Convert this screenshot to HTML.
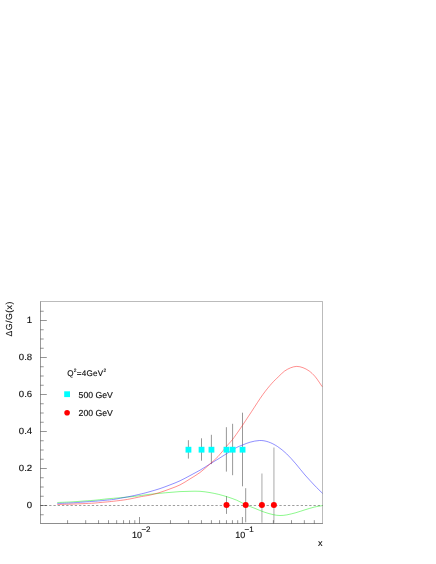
<!DOCTYPE html><html><head><meta charset="utf-8"><style>html,body{margin:0;padding:0;background:#fff}svg{display:block;will-change:transform}text{font-family:"Liberation Sans",sans-serif;fill:#111;stroke:#111;stroke-width:0.15px;text-rendering:geometricPrecision}</style></head><body>
<svg width="436" height="564" viewBox="0 0 436 564">
<rect width="436" height="564" fill="#fff"/>
<g stroke="#8c8c8c" stroke-width="0.9">
<line x1="188.4" y1="440.2" x2="188.4" y2="458.6"/>
<line x1="201.5" y1="438.3" x2="201.5" y2="460.7"/>
<line x1="211.4" y1="434.8" x2="211.4" y2="464.1"/>
<line x1="226.4" y1="427.2" x2="226.4" y2="471.6"/>
<line x1="232.6" y1="423.8" x2="232.6" y2="475.2"/>
<line x1="242.5" y1="412.7" x2="242.5" y2="486.3"/>
<line x1="226.5" y1="496.2" x2="226.5" y2="513.9"/>
<line x1="245.7" y1="488.2" x2="245.7" y2="522.3"/>
</g>
<g stroke="#c6c6c6" stroke-width="1.5">
<line x1="261.9" y1="473.6" x2="261.9" y2="522.8"/>
<line x1="273.9" y1="447.5" x2="273.9" y2="522.8"/>
</g>
<line x1="40.5" y1="505.5" x2="322.5" y2="505.5" stroke="#333" stroke-width="0.48" stroke-dasharray="2.3 1.963" stroke-dashoffset="-0.15"/>
<g fill="none" stroke-width="0.5" stroke-linejoin="round">
<path d="M57.3 502.5 C59.4 502.4 65.5 502.2 70.0 502.0 C74.5 501.8 79.5 501.3 84.0 501.0 C88.5 500.7 93.2 500.4 97.0 500.0 C100.8 499.6 103.0 499.3 106.9 498.9 C110.8 498.5 116.0 498.1 120.6 497.7 C125.2 497.3 129.8 496.9 134.4 496.4 C139.0 495.9 143.8 495.0 148.1 494.5 C152.4 494.0 156.3 493.7 160.0 493.3 C163.7 492.9 166.7 492.7 170.0 492.4 C173.3 492.1 176.7 491.8 180.0 491.6 C183.3 491.4 186.7 491.4 190.0 491.3 C193.3 491.2 196.7 491.1 200.0 491.3 C203.3 491.5 206.9 492.1 210.0 492.6 C213.1 493.1 215.4 493.6 218.3 494.3 C221.2 495.0 224.4 495.9 227.5 496.9 C230.6 497.9 233.6 498.9 236.7 500.2 C239.8 501.5 242.8 503.4 245.9 504.8 C249.0 506.2 251.9 507.2 255.0 508.4 C258.1 509.6 261.1 511.1 264.2 512.1 C267.3 513.2 270.8 514.1 273.4 514.7 C276.0 515.3 277.8 515.4 280.0 515.5 C282.2 515.5 284.1 515.4 286.7 514.9 C289.3 514.4 292.8 513.6 295.9 512.7 C298.9 511.9 301.9 510.7 305.0 509.8 C308.1 508.9 311.3 507.8 314.2 507.1 C317.1 506.4 321.1 505.9 322.5 505.6" stroke="#00f000" stroke-width="0.45"/>
<path d="M57.3 503.5 C59.4 503.4 65.5 503.2 70.0 503.0 C74.5 502.8 80.0 502.3 84.0 502.0 C88.0 501.7 91.3 501.5 94.0 501.3 C96.7 501.1 98.0 501.0 100.0 500.8 C102.0 500.6 103.7 500.4 106.0 500.2 C108.3 500.0 110.2 499.9 113.8 499.4 C117.4 498.8 122.9 497.8 127.5 496.9 C132.1 496.0 137.6 494.8 141.3 493.9 C145.1 493.0 146.9 492.5 150.0 491.6 C153.1 490.7 156.7 489.7 160.0 488.6 C163.3 487.5 166.7 486.2 170.0 484.9 C173.3 483.6 176.7 482.4 180.0 480.8 C183.3 479.2 186.7 477.4 190.0 475.6 C193.3 473.8 196.7 472.1 200.0 470.2 C203.3 468.3 206.8 466.0 209.8 464.1 C212.8 462.2 215.2 460.8 218.0 459.1 C220.8 457.4 223.3 455.7 226.4 453.8 C229.5 451.9 233.6 449.2 236.3 447.7 C239.0 446.2 240.3 445.9 242.6 445.0 C244.9 444.1 247.3 442.9 250.1 442.2 C252.9 441.4 256.6 440.6 259.6 440.5 C262.6 440.4 265.3 440.9 268.3 441.9 C271.3 442.9 274.4 444.5 277.5 446.5 C280.6 448.5 283.6 451.0 286.7 453.9 C289.8 456.8 292.8 460.4 295.9 463.9 C298.9 467.4 301.9 471.5 305.0 475.0 C308.1 478.5 311.3 481.9 314.2 485.0 C317.1 488.1 321.1 491.9 322.5 493.3" stroke="#2020ff"/>
<path d="M57.3 504.5 C59.4 504.4 65.9 504.3 70.0 504.2 C74.1 504.1 78.0 503.9 82.0 503.7 C86.0 503.5 91.0 503.3 94.0 503.1 C97.0 502.9 98.0 502.7 100.0 502.5 C102.0 502.3 103.7 502.2 106.0 502.0 C108.3 501.8 110.2 501.6 113.8 501.2 C117.4 500.8 122.9 500.2 127.5 499.4 C132.1 498.6 137.6 497.3 141.3 496.6 C145.1 495.9 146.9 495.8 150.0 495.1 C153.1 494.4 156.7 493.4 160.0 492.4 C163.3 491.4 166.7 490.1 170.0 488.9 C173.3 487.6 176.7 486.6 180.0 484.9 C183.3 483.2 186.7 481.0 190.0 478.9 C193.3 476.8 196.7 475.0 200.0 472.5 C203.3 470.0 206.8 466.8 209.8 464.1 C212.8 461.5 215.2 459.5 218.0 456.6 C220.8 453.7 224.0 449.4 226.4 446.5 C228.8 443.6 230.2 442.4 232.5 439.5 C234.8 436.6 236.8 433.6 240.0 429.0 C243.2 424.4 247.7 417.4 251.5 411.7 C255.3 405.9 259.5 399.2 262.9 394.5 C266.3 389.8 269.4 386.1 272.0 383.2 C274.6 380.3 276.1 379.0 278.2 377.0 C280.3 375.0 282.3 372.7 284.4 371.2 C286.5 369.7 288.5 368.6 290.6 367.8 C292.7 367.0 294.7 366.4 296.8 366.4 C298.9 366.4 300.9 366.9 303.0 367.7 C305.1 368.5 307.1 369.5 309.2 371.0 C311.2 372.5 313.1 374.2 315.3 376.8 C317.5 379.4 321.1 385.1 322.2 386.7" stroke="#ff2020"/>
</g>
<rect x="185.55" y="446.80" width="5.8" height="5.8" fill="#00ffff"/>
<rect x="198.65" y="446.80" width="5.8" height="5.8" fill="#00ffff"/>
<rect x="208.55" y="446.80" width="5.8" height="5.8" fill="#00ffff"/>
<rect x="223.55" y="446.80" width="5.8" height="5.8" fill="#00ffff"/>
<rect x="229.75" y="446.80" width="5.8" height="5.8" fill="#00ffff"/>
<rect x="239.65" y="446.80" width="5.8" height="5.8" fill="#00ffff"/>
<circle cx="226.5" cy="505.0" r="3" fill="#ff0000"/>
<circle cx="245.7" cy="505.0" r="3" fill="#ff0000"/>
<circle cx="261.9" cy="505.0" r="3" fill="#ff0000"/>
<circle cx="273.9" cy="505.0" r="3" fill="#ff0000"/>
<g stroke="#000" fill="none">
<path d="M40.5 301.5H322.5V523.7" stroke-width="0.27"/>
<path d="M40.5 301.4V523.5" stroke-width="0.40"/>
<path d="M40.3 523.5H322.7" stroke-width="0.45"/>
</g>
<g stroke="#000" stroke-width="0.42">
<line x1="40.5" y1="514.75" x2="43.7" y2="514.75"/>
<line x1="40.5" y1="505.50" x2="46.8" y2="505.50"/>
<line x1="40.5" y1="496.25" x2="43.7" y2="496.25"/>
<line x1="40.5" y1="487.00" x2="43.7" y2="487.00"/>
<line x1="40.5" y1="477.75" x2="43.7" y2="477.75"/>
<line x1="40.5" y1="468.50" x2="46.8" y2="468.50"/>
<line x1="40.5" y1="459.25" x2="43.7" y2="459.25"/>
<line x1="40.5" y1="450.00" x2="43.7" y2="450.00"/>
<line x1="40.5" y1="440.75" x2="43.7" y2="440.75"/>
<line x1="40.5" y1="431.50" x2="46.8" y2="431.50"/>
<line x1="40.5" y1="422.25" x2="43.7" y2="422.25"/>
<line x1="40.5" y1="413.00" x2="43.7" y2="413.00"/>
<line x1="40.5" y1="403.75" x2="43.7" y2="403.75"/>
<line x1="40.5" y1="394.50" x2="46.8" y2="394.50"/>
<line x1="40.5" y1="385.25" x2="43.7" y2="385.25"/>
<line x1="40.5" y1="376.00" x2="43.7" y2="376.00"/>
<line x1="40.5" y1="366.75" x2="43.7" y2="366.75"/>
<line x1="40.5" y1="357.50" x2="46.8" y2="357.50"/>
<line x1="40.5" y1="348.25" x2="43.7" y2="348.25"/>
<line x1="40.5" y1="339.00" x2="43.7" y2="339.00"/>
<line x1="40.5" y1="329.75" x2="43.7" y2="329.75"/>
<line x1="40.5" y1="320.50" x2="46.8" y2="320.50"/>
<line x1="40.5" y1="311.25" x2="43.7" y2="311.25"/>
<line x1="67.58" y1="523.5" x2="67.58" y2="520.2"/>
<line x1="85.70" y1="523.5" x2="85.70" y2="520.2"/>
<line x1="98.55" y1="523.5" x2="98.55" y2="520.2"/>
<line x1="108.52" y1="523.5" x2="108.52" y2="520.2"/>
<line x1="116.67" y1="523.5" x2="116.67" y2="520.2"/>
<line x1="123.56" y1="523.5" x2="123.56" y2="520.2"/>
<line x1="129.53" y1="523.5" x2="129.53" y2="520.2"/>
<line x1="134.79" y1="523.5" x2="134.79" y2="520.2"/>
<line x1="139.50" y1="523.5" x2="139.50" y2="517.0"/>
<line x1="170.48" y1="523.5" x2="170.48" y2="520.2"/>
<line x1="188.60" y1="523.5" x2="188.60" y2="520.2"/>
<line x1="201.45" y1="523.5" x2="201.45" y2="520.2"/>
<line x1="211.42" y1="523.5" x2="211.42" y2="520.2"/>
<line x1="219.57" y1="523.5" x2="219.57" y2="520.2"/>
<line x1="226.46" y1="523.5" x2="226.46" y2="520.2"/>
<line x1="232.43" y1="523.5" x2="232.43" y2="520.2"/>
<line x1="237.69" y1="523.5" x2="237.69" y2="520.2"/>
<line x1="242.40" y1="523.5" x2="242.40" y2="517.0"/>
<line x1="273.38" y1="523.5" x2="273.38" y2="520.2"/>
<line x1="291.50" y1="523.5" x2="291.50" y2="520.2"/>
<line x1="304.35" y1="523.5" x2="304.35" y2="520.2"/>
<line x1="314.32" y1="523.5" x2="314.32" y2="520.2"/>
</g>
<text transform="translate(32.2 323.45) scale(1.07 1)" font-size="9.0" text-anchor="end">1</text>
<text transform="translate(32.2 360.45) scale(1.07 1)" font-size="9.0" text-anchor="end">0.8</text>
<text transform="translate(32.2 397.45) scale(1.07 1)" font-size="9.0" text-anchor="end">0.6</text>
<text transform="translate(32.2 434.45) scale(1.07 1)" font-size="9.0" text-anchor="end">0.4</text>
<text transform="translate(32.2 471.45) scale(1.07 1)" font-size="9.0" text-anchor="end">0.2</text>
<text transform="translate(32.2 508.45) scale(1.07 1)" font-size="9.0" text-anchor="end">0</text>
<text x="132.0" y="537.6" font-size="9.0">10</text>
<text x="141.4" y="532.3" font-size="8">−2</text>
<text x="235.3" y="537.7" font-size="9.0">10</text>
<text x="244.5" y="532.3" font-size="8">−1</text>
<text x="322.6" y="545.8" font-size="9.0" text-anchor="end">x</text>
<text transform="translate(11.9 336.5) rotate(-90)" font-size="8.7" letter-spacing="0.5">ΔG/G(x)</text>
<text x="67.2" y="375.7" font-size="8.1" letter-spacing="0.28">Q<tspan font-size="4.8" dy="-4.2">2</tspan><tspan dy="4.2">=4GeV</tspan><tspan font-size="4.8" dy="-4.2">2</tspan></text>
<rect x="64.2" y="391.3" width="5.8" height="5.8" fill="#00ffff"/>
<text x="78.6" y="397.5" font-size="8.7">500 GeV</text>
<circle cx="67.1" cy="412.7" r="2.8" fill="#ff0000"/>
<text x="78.6" y="415.9" font-size="8.7">200 GeV</text>
</svg></body></html>
